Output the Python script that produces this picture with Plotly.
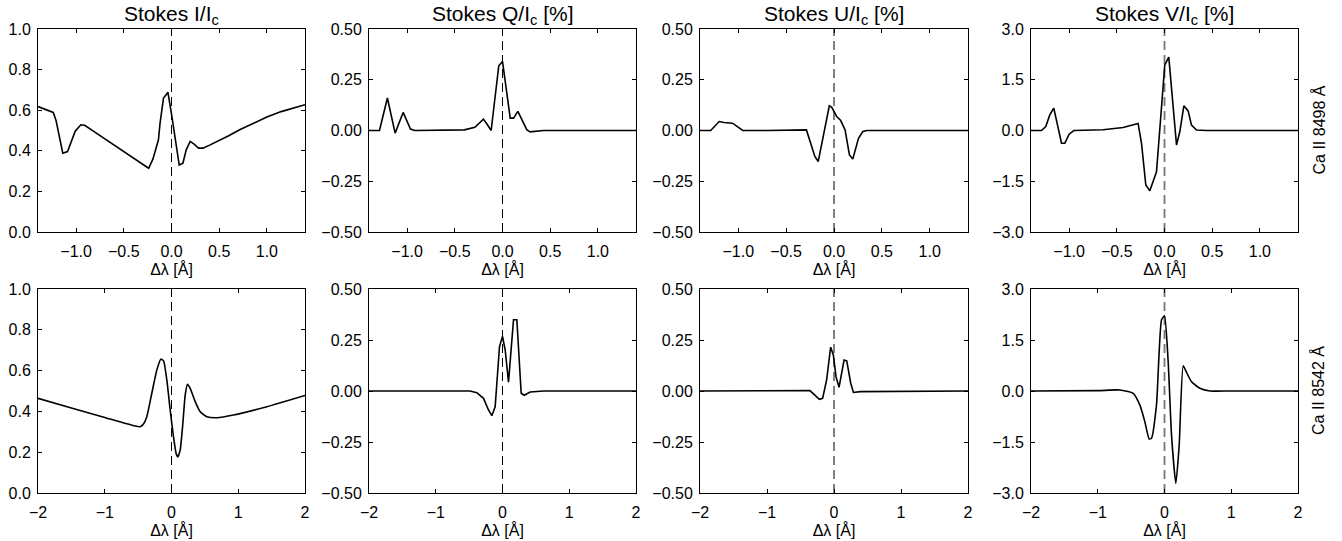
import plotly.graph_objects as go

# ---------------- data ----------------
# Ca II 8498 (top row)
x_I_8498 = [-1.40, -1.32, -1.24, -1.21, -1.17, -1.14, -1.09, -1.05, -1.01, -0.95, -0.91, -0.80, -0.70, -0.60,
            -0.50, -0.43, -0.35, -0.24, -0.195, -0.137, -0.12, -0.084, -0.05, -0.038, 0.004, 0.046, 0.081, 0.12,
            0.154, 0.196, 0.24, 0.283, 0.33, 0.40, 0.50, 0.60, 0.72, 0.85, 1.00, 1.15, 1.30, 1.40]
y_I_8498 = [0.618, 0.605, 0.589, 0.548, 0.46, 0.388, 0.396, 0.45, 0.497, 0.528, 0.526, 0.491, 0.460, 0.428,
            0.396, 0.374, 0.349, 0.314, 0.359, 0.454, 0.536, 0.66, 0.68, 0.689, 0.569, 0.438, 0.33, 0.339,
            0.405, 0.446, 0.432, 0.413, 0.413, 0.428, 0.45, 0.474, 0.505, 0.535, 0.566, 0.593, 0.613, 0.627]

x_Q_8498 = [-1.40, -1.29, -1.207, -1.126, -1.042, -0.965, -0.92, -0.70, -0.50, -0.40, -0.29, -0.20, -0.158,
            -0.119, -0.039, 0.0, 0.081, 0.116, 0.161, 0.204, 0.256, 0.291, 0.43, 0.80, 1.40]
y_Q_8498 = [0, 0, 0.16, -0.013, 0.089, 0.007, 0.0, 0.0, 0.001, 0.003, 0.016, 0.056, 0.028,
            0.0, 0.319, 0.34, 0.061, 0.061, 0.094, 0.056, 0.003, -0.007, 0.0, 0.0, 0.0]

x_U_8498 = [-1.40, -1.288, -1.20, -1.147, -1.06, -1.007, -0.954, -0.70, -0.50, -0.288, -0.20, -0.165, -0.049,
            -0.025, 0.028, 0.07, 0.116, 0.161, 0.196, 0.256, 0.302, 0.344, 0.60, 1.40]
y_U_8498 = [0, 0, 0.044, 0.039, 0.036, 0.016, 0, 0, 0.001, 0.003, -0.128, -0.153, 0.122,
            0.115, 0.069, 0.049, 0.003, -0.12, -0.141, -0.038, -0.005, 0, 0, 0]

x_V_8498 = [-1.40, -1.29, -1.245, -1.203, -1.161, -1.08, -1.045, -1.0, -0.951, -0.80, -0.643, -0.434, -0.277,
            -0.241, -0.196, -0.154, -0.084, 0.003, 0.045, 0.126, 0.161, 0.203, 0.248, 0.283, 0.336, 0.44,
            0.70, 1.40]
y_V_8498 = [0, 0, 0.118, 0.46, 0.66, -0.375, -0.375, -0.11, 0.0, 0.01, 0.02, 0.09, 0.21,
            -0.38, -1.61, -1.78, -1.22, 1.94, 2.17, -0.43, -0.03, 0.73, 0.58, 0.16, 0.015, 0.0,
            0.0, 0.0]

# Ca II 8542 (bottom row)
x_I_8542 = [-2.0, -1.5, -1.0, -0.545, -0.47, -0.42, -0.37, -0.295, -0.22, -0.16, -0.12, -0.07, -0.02, 0.03,
            0.07, 0.095, 0.13, 0.17, 0.205, 0.24, 0.28, 0.355, 0.43, 0.53, 0.68, 0.93, 1.43, 2.0]
y_I_8542 = [0.464, 0.417, 0.370, 0.328, 0.325, 0.338, 0.374, 0.489, 0.603, 0.656, 0.649, 0.554, 0.407, 0.275,
            0.193, 0.177, 0.21, 0.341, 0.48, 0.533, 0.513, 0.448, 0.398, 0.374, 0.369, 0.382, 0.423, 0.478]

x_Q_8542 = [-2.0, -1.0, -0.485, -0.385, -0.285, -0.21, -0.16, -0.11, -0.045, 0.0, 0.04, 0.09, 0.165, 0.215,
            0.28, 0.325, 0.415, 0.615, 2.0]
y_Q_8542 = [0, 0, 0, -0.008, -0.036, -0.093, -0.121, -0.077, 0.218, 0.267, 0.202, 0.043, 0.349, 0.349,
            -0.011, -0.021, -0.005, 0, 0]

x_U_8542 = [-2.0, -1.0, -0.36, -0.285, -0.22, -0.17, -0.11, -0.05, -0.01, 0.03, 0.075, 0.15, 0.19, 0.25,
            0.29, 0.39, 2.0]
y_U_8542 = [0, 0, 0.002, -0.02, -0.041, -0.036, 0.054, 0.215, 0.177, 0.07, 0.018, 0.152, 0.148, 0.038,
            -0.007, -0.003, 0]

x_V_8542 = [-2.0, -1.0, -0.67, -0.47, -0.37, -0.295, -0.23, -0.195, -0.12, -0.045, 0.0, 0.055, 0.105, 0.17,
            0.22, 0.28, 0.33, 0.405, 0.53, 0.68, 1.0, 2.0]
y_V_8542 = [0, 0.01, 0.03, -0.07, -0.41, -0.9, -1.41, -1.39, -0.41, 2.09, 2.21, 0.86, -1.29, -2.72,
            -1.59, 0.74, 0.55, 0.27, 0.08, 0.0, 0.0, 0.0]

col_titles = ["Stokes I/I<sub>c</sub>", "Stokes Q/I<sub>c</sub> [%]", "Stokes U/I<sub>c</sub> [%]",
              "Stokes V/I<sub>c</sub> [%]"]
row_labels = ["Ca II 8498 Å", "Ca II 8542 Å"]
x_title = "Δλ [Å]"

top_xticks = [-1.0, -0.5, 0.0, 0.5, 1.0]
top_xtext = ["−1.0", "−0.5", "0.0", "0.5", "1.0"]
bot_xticks = [-2, -1, 0, 1, 2]
bot_xtext = ["−2", "−1", "0", "1", "2"]

yticks_I = [0.0, 0.2, 0.4, 0.6, 0.8, 1.0]
ytext_I = ["0.0", "0.2", "0.4", "0.6", "0.8", "1.0"]
yticks_QU = [-0.5, -0.25, 0.0, 0.25, 0.5]
ytext_QU = ["−0.50", "−0.25", "0.00", "0.25", "0.50"]
yticks_V = [-3.0, -1.5, 0.0, 1.5, 3.0]
ytext_V = ["−3.0", "−1.5", "0.0", "1.5", "3.0"]

top_series = [(x_I_8498, y_I_8498), (x_Q_8498, y_Q_8498), (x_U_8498, y_U_8498), (x_V_8498, y_V_8498)]
bot_series = [(x_I_8542, y_I_8542), (x_Q_8542, y_Q_8542), (x_U_8542, y_U_8542), (x_V_8542, y_V_8542)]

y_ranges = [[0, 1], [-0.5, 0.5], [-0.5, 0.5], [-3, 3]]
y_ticks = [(yticks_I, ytext_I), (yticks_QU, ytext_QU), (yticks_QU, ytext_QU), (yticks_V, ytext_V)]

# ---------------- layout geometry ----------------
W, H = 1342, 541
col_px = [(38, 305), (369, 636), (700, 968), (1031, 1298)]
row_px = [(29, 232), (289, 493)]

FONT = "Liberation Sans, Arial, Helvetica, sans-serif"

fig = go.Figure()
layout = dict(
    width=W, height=H, margin=dict(l=0, r=0, t=0, b=0),
    paper_bgcolor="white", plot_bgcolor="white",
    showlegend=False, font=dict(family=FONT, size=16, color="black"),
)
shapes = []
annotations = []

idx = 0
for r in range(2):
    series = top_series if r == 0 else bot_series
    for c in range(4):
        idx += 1
        xs, ys = series[c]
        xa = "x" if idx == 1 else f"x{idx}"
        ya = "y" if idx == 1 else f"y{idx}"
        smooth = (r == 1 and c in (0, 3))
        fig.add_trace(go.Scatter(x=xs, y=ys, mode="lines", xaxis=xa, yaxis=ya,
                                 line=dict(color="black", width=1.6,
                                           shape="spline" if smooth else "linear",
                                           smoothing=0.5 if smooth else None)))
        x0, x1 = col_px[c]
        t0, t1 = row_px[r]
        xkey = "xaxis" if idx == 1 else f"xaxis{idx}"
        ykey = "yaxis" if idx == 1 else f"yaxis{idx}"
        if r == 0:
            xaxis = dict(range=[-1.4, 1.4], tickvals=top_xticks, ticktext=top_xtext)
        else:
            xaxis = dict(range=[-2, 2], tickvals=bot_xticks, ticktext=bot_xtext)
        xaxis.update(domain=[x0 / W, x1 / W], anchor=ya, showline=True, mirror="ticks",
                     linecolor="black", linewidth=1, ticks="inside", ticklen=4, tickcolor="black",
                     showgrid=False, zeroline=False, automargin=False,
                     tickfont=dict(size=16, family=FONT), ticklabelstandoff=5,
                     title=dict(text=x_title, font=dict(size=16, family=FONT), standoff=0))
        yv, yt = y_ticks[c]
        yaxis = dict(range=y_ranges[c], tickvals=yv, ticktext=yt,
                     domain=[1 - t1 / H, 1 - t0 / H], anchor=xa, showline=True, mirror="ticks",
                     linecolor="black", linewidth=1, ticks="inside", ticklen=4, tickcolor="black",
                     showgrid=False, zeroline=False, automargin=False,
                     tickfont=dict(size=16, family=FONT), ticklabelstandoff=3)
        layout[xkey] = xaxis
        layout[ykey] = yaxis
        dash_col = "#777777" if c == 3 else "black"
        dash_w = 1.8 if c == 3 else 1
        shapes.append(dict(type="line", xref=xa, yref=f"{ya} domain", x0=0, x1=0, y0=0, y1=1,
                           line=dict(color=dash_col, width=dash_w, dash="9px,5px"), layer="below"))

for c in range(4):
    x0, x1 = col_px[c]
    annotations.append(dict(text=col_titles[c], x=(x0 + x1) / 2 / W, y=1 - 15 / H, xref="paper", yref="paper",
                            xanchor="center", yanchor="middle", showarrow=False,
                            font=dict(size=21, family=FONT, color="black")))
for r in range(2):
    t0, t1 = row_px[r]
    annotations.append(dict(text=row_labels[r], x=1318 / W, y=1 - (t0 + t1) / 2 / H, xref="paper",
                            yref="paper", xanchor="center", yanchor="middle", textangle=-90,
                            showarrow=False, font=dict(size=16, family=FONT, color="black")))

layout["shapes"] = shapes
layout["annotations"] = annotations
fig.update_layout(**layout)
fig.write_html("out.html")
